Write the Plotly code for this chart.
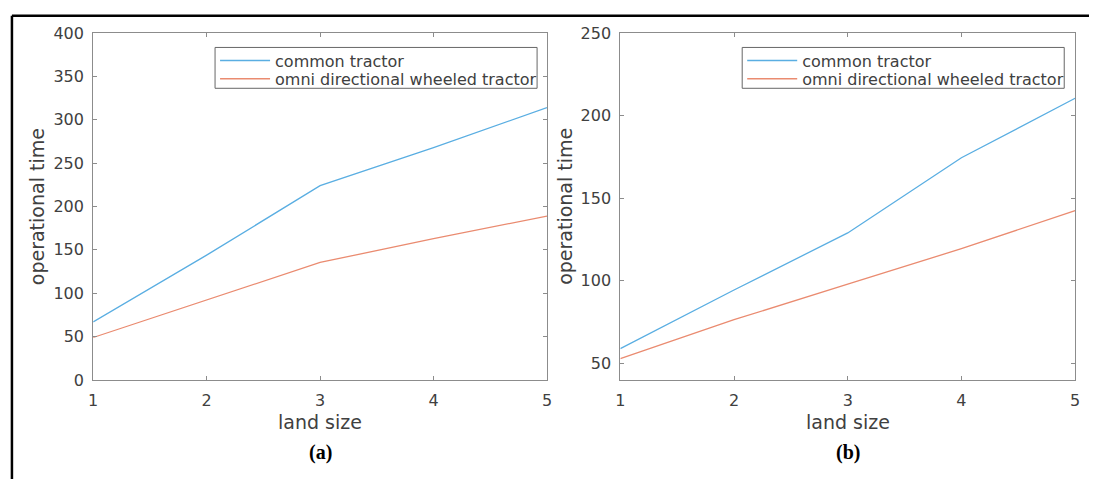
import plotly.graph_objects as go

land_size = [1, 2, 3, 4, 5]

# panel (a)
a_common = [67, 144, 224, 268, 314]
a_omni = [49, 92.5, 135.5, 163, 189]

# panel (b)
b_common = [59, 94.5, 129, 174.5, 210.5]
b_omni = [53, 76.5, 98, 119.5, 142.5]

a_yticks = [0, 50, 100, 150, 200, 250, 300, 350, 400]
b_yticks = [50, 100, 150, 200, 250]

series_names = ["common tractor", "omni directional wheeled tractor"]
colors = ["#5aaee2", "#ea8b70"]

W, H = 1094, 489
FONT = "DejaVu Sans"
AXC = "#8c8c8c"
TXC = "#404040"

def px(x):
    return x / W

def py(y):
    return (H - y) / H

fig = go.Figure()
fig.add_trace(go.Scatter(x=land_size, y=a_common, mode="lines", name=series_names[0],
                         line=dict(color=colors[0], width=1.3), xaxis="x", yaxis="y", legend="legend"))
fig.add_trace(go.Scatter(x=land_size, y=a_omni, mode="lines", name=series_names[1],
                         line=dict(color=colors[1], width=1.3), xaxis="x", yaxis="y", legend="legend3"))
fig.add_trace(go.Scatter(x=land_size, y=b_common, mode="lines", name=series_names[0],
                         line=dict(color=colors[0], width=1.3), xaxis="x2", yaxis="y2", legend="legend2"))
fig.add_trace(go.Scatter(x=land_size, y=b_omni, mode="lines", name=series_names[1],
                         line=dict(color=colors[1], width=1.3), xaxis="x2", yaxis="y2", legend="legend4"))

ydom = [py(386), py(25)]

def xax(dom):
    return dict(domain=dom, range=[1, 5], tickvals=land_size, ticks="inside", ticklen=4,
                tickcolor=AXC, showline=True, linecolor=AXC, linewidth=1, mirror="ticks",
                showgrid=False, zeroline=False, ticklabelstandoff=6,
                tickfont=dict(family=FONT, size=16, color=TXC))

def yax(rng, tv, anchor):
    return dict(domain=ydom, range=rng, tickvals=tv, ticks="inside", ticklen=4, anchor=anchor,
                tickcolor=AXC, showline=True, linecolor=AXC, linewidth=1, mirror="ticks",
                showgrid=False, zeroline=False, ticklabelstandoff=5,
                tickfont=dict(family=FONT, size=16, color=TXC))

def leg(xleft, ytop):
    return dict(yanchor="top", xanchor="left", x=px(xleft), y=py(ytop), bgcolor="rgba(0,0,0,0)",
                borderwidth=0, font=dict(family=FONT, size=16, color=TXC), itemwidth=50)

title_font = dict(family=FONT, size=19, color=TXC)
cap_font = dict(family="Liberation Serif", size=20, color="black")

annotations = [
    dict(text="land size", x=px(318), y=py(430), font=title_font),
    dict(text="land size", x=px(850.5), y=py(430), font=title_font),
    dict(text="operational time", x=px(32), y=py(205.5), textangle=-90, font=title_font),
    dict(text="operational time", x=px(564.5), y=py(205.5), textangle=-90, font=title_font),
    dict(text="<b>(a)</b>", x=px(318), y=py(461), font=cap_font),
    dict(text="<b>(b)</b>", x=px(850.5), y=py(461), font=cap_font),
]
for a in annotations:
    a.update(xref="paper", yref="paper", showarrow=False, xanchor="center", yanchor="middle")

shapes = [
    dict(type="line", xref="paper", yref="paper", x0=px(7), x1=1, y0=py(7), y1=py(7),
         line=dict(color="black", width=2.5)),
    dict(type="line", xref="paper", yref="paper", x0=px(7), x1=px(7), y0=0, y1=py(7),
         line=dict(color="black", width=2.5)),
]
for lx0, lx1 in [(212, 537), (744, 1069)]:
    shapes.append(dict(type="rect", xref="paper", yref="paper", x0=px(lx0), x1=px(lx1),
                       y0=py(82.5), y1=py(40), line=dict(color="#666666", width=1),
                       fillcolor="white", layer="above"))

fig.update_layout(
    width=W, height=H, margin=dict(l=0, r=0, t=0, b=0),
    paper_bgcolor="white", plot_bgcolor="white",
    xaxis=dict(**xax([px(89), px(547)]), anchor="y"),
    yaxis=yax([0, 400], a_yticks, "x"),
    xaxis2=dict(**xax([px(621), px(1080)]), anchor="y2"),
    yaxis2=yax([40, 250], b_yticks, "x2"),
    legend=leg(212, 36),
    legend3=leg(212, 55),
    legend2=leg(744, 36),
    legend4=leg(744, 55),
    showlegend=True,
    annotations=annotations,
    shapes=shapes,
)

fig.write_html("out.html",
               post_script="document.body.style.margin='0px';document.body.style.overflow='hidden';")
